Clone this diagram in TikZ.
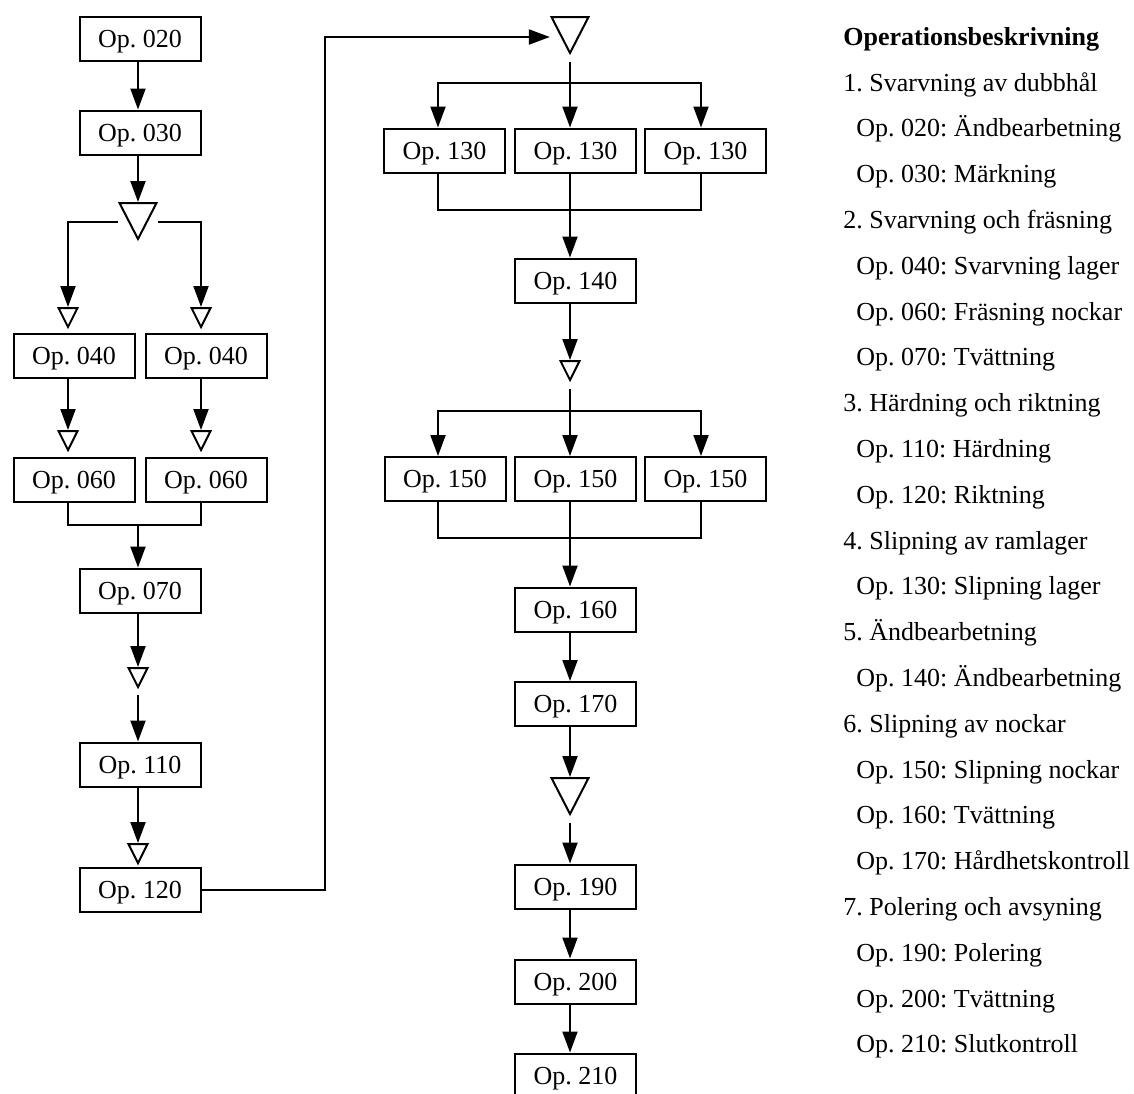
\documentclass[tikz,border=0pt]{standalone}
\usepackage{fontspec}
\setmainfont{Liberation Serif}
\frenchspacing
\usetikzlibrary{arrows.meta,shapes.geometric}
\begin{document}
\begin{tikzpicture}[x=0.5pt, y=-0.5pt,
    opbox/.style={draw, line width=1pt, minimum width=60.5pt, minimum height=22pt, inner sep=0pt, text height=11.5pt, text depth=2.9pt, font=\fontsize{13}{15}\selectfont},
    bigtri/.style={draw, line width=1pt, isosceles triangle, isosceles triangle stretches, shape border rotate=-90, minimum width=18.5pt, minimum height=18pt, inner sep=0pt, anchor=north},
    smalltri/.style={bigtri, minimum width=9.5pt, minimum height=9.5pt},
    flow/.style={line width=1pt, -{Triangle[length=10.5pt, width=7.5pt]}},
    wire/.style={line width=1pt},
    legend/.style={anchor=base west, inner sep=0pt, font=\fontsize{13}{15}\selectfont}]
    \useasboundingbox (0,0) rectangle (1134,1093);
    \clip (0,0) rectangle (1134,1093);

    \node[opbox] (o020) at (140,39) {Op. 020};
    \node[opbox] (o030) at (140,132.5) {Op. 030};
    \node[bigtri] (t1) at (138,202) {};
    \node[smalltri] (t2a) at (68,307) {};
    \node[smalltri] (t2b) at (201,307) {};
    \node[opbox] (o040a) at (74,355.5) {Op. 040};
    \node[opbox] (o040b) at (206,355.5) {Op. 040};
    \node[smalltri] (t3a) at (68,430) {};
    \node[smalltri] (t3b) at (201,430) {};
    \node[opbox] (o060a) at (74,479.5) {Op. 060};
    \node[opbox] (o060b) at (206,479.5) {Op. 060};
    \coordinate (j0) at (138,525);
    \node[opbox] (o070) at (140,590.5) {Op. 070};
    \node[smalltri] (t4) at (138,667) {};
    \node[opbox] (o110) at (140,764.5) {Op. 110};
    \node[smalltri] (t5) at (138,843) {};
    \node[opbox] (o120) at (140,889.5) {Op. 120};
    \coordinate (feed) at (325,37);

    \node[bigtri] (t6) at (570,16) {};
    \coordinate (s1) at (570,83);
    \coordinate (ca) at (438,0);
    \coordinate (cc) at (701,0);
    \node[opbox] (o130a) at (444.5,150.5) {Op. 130};
    \node[opbox] (o130b) at (575.5,150.5) {Op. 130};
    \node[opbox] (o130c) at (705.5,150.5) {Op. 130};
    \coordinate (j1) at (570,210);
    \node[opbox] (o140) at (575.5,280.5) {Op. 140};
    \node[smalltri] (t7) at (570,360) {};
    \coordinate (s2) at (570,411);
    \node[opbox] (o150a) at (445,479) {Op. 150};
    \node[opbox] (o150b) at (575.5,479) {Op. 150};
    \node[opbox] (o150c) at (705.5,479) {Op. 150};
    \coordinate (j2) at (570,538);
    \node[opbox] (o160) at (575.5,609.5) {Op. 160};
    \node[opbox] (o170) at (575.5,704) {Op. 170};
    \node[bigtri] (t8) at (570,777) {};
    \node[opbox] (o190) at (575.5,886.5) {Op. 190};
    \node[opbox] (o200) at (575.5,981.5) {Op. 200};
    \node[opbox] (o210) at (575.5,1075.5) {Op. 210};

    \draw[flow] (o020.south -| t1.north) -- (o030.north -| t1.north);
    \draw[flow] (o030.south -| t1.north) -- (t1.north);
    \draw[flow] (t1.right side -| t1.right corner) -| (t2a.north);
    \draw[flow] (t1.left side -| t1.left corner) -| (t2b.north);
    \draw[flow] (o040a.south -| t3a.north) -- (t3a.north);
    \draw[flow] (o040b.south -| t3b.north) -- (t3b.north);
    \draw[wire] (o060a.south -| t3a.north) |- (j0) -| (o060b.south -| t3b.north);
    \draw[flow] (j0) -- (o070.north -| j0);
    \draw[flow] (o070.south -| t4.north) -- (t4.north);
    \draw[flow, shorten <=2.5pt] (t4.apex) -- (o110.north -| t4.apex);
    \draw[flow] (o110.south -| t5.north) -- (t5.north);
    \draw[flow] (o120.east) -| (feed) -- (feed -| t6.right corner);

    \draw[wire, shorten <=3pt] (t6.apex) -- (s1);
    \draw[flow] (s1) -| (ca |- o130a.north);
    \draw[flow] (s1) -- (o130b.north -| s1);
    \draw[flow] (s1) -| (cc |- o130c.north);
    \draw[wire] (ca |- o130a.south) |- (j1) -| (cc |- o130c.south);
    \draw[wire] (o130b.south -| j1) -- (j1);
    \draw[flow] (j1) -- (o140.north -| j1);
    \draw[flow] (o140.south -| t7.north) -- (t7.north);
    \draw[wire, shorten <=3pt] (t7.apex) -- (s2);
    \draw[flow] (s2) -| (ca |- o150a.north);
    \draw[flow] (s2) -- (o150b.north -| s2);
    \draw[flow] (s2) -| (cc |- o150c.north);
    \draw[wire] (ca |- o150a.south) |- (j2) -| (cc |- o150c.south);
    \draw[wire] (o150b.south -| j2) -- (j2);
    \draw[flow] (j2) -- (o160.north -| j2);
    \draw[flow] (o160.south -| j2) -- (o170.north -| j2);
    \draw[flow] (o170.south -| t8.north) -- (t8.north);
    \draw[flow, shorten <=3pt] (t8.apex) -- (o190.north -| t8.apex);
    \draw[flow] (o190.south -| t8.apex) -- (o200.north -| t8.apex);
    \draw[flow] (o200.south -| t8.apex) -- (o210.north -| t8.apex);

    \node[legend, font=\fontsize{13}{15}\selectfont\bfseries] (head) at (843,45) {Operationsbeskrivning};
    \foreach \x/\t [count=\i from 0] in {843/1. Svarvning av dubbhål, 856/Op. 020: Ändbearbetning, 856/Op. 030: Märkning, 843/2. Svarvning och fräsning, 856/Op. 040: Svarvning lager, 856/Op. 060: Fräsning nockar, 856/Op. 070: Tvättning, 843/3. Härdning och riktning, 856/Op. 110: Härdning, 856/Op. 120: Riktning, 843/4. Slipning av ramlager, 856/Op. 130: Slipning lager, 843/5. Ändbearbetning, 856/Op. 140: Ändbearbetning, 843/6. Slipning av nockar, 856/Op. 150: Slipning nockar, 856/Op. 160: Tvättning, 856/Op. 170: Hårdhetskontroll, 843/7. Polering och avsyning, 856/Op. 190: Polering, 856/Op. 200: Tvättning, 856/Op. 210: Slutkontroll}
        \node[legend] (line\i) at (\x,{91+45.8*\i}) {\t};
\end{tikzpicture}
\end{document}
